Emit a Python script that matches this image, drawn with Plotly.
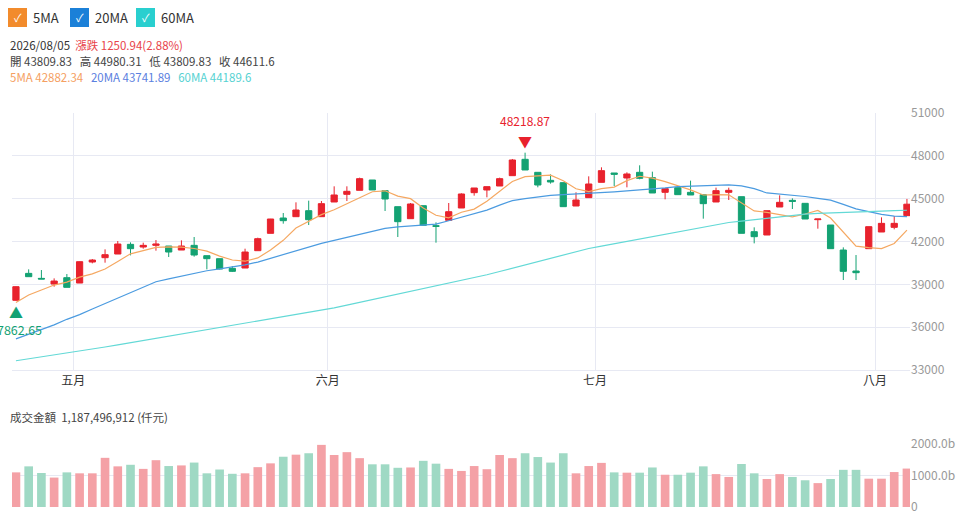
import plotly.graph_objects as go

opens = [37880,39768,39418,39021,39465,39091,40562,40866,41123,41800,41613,41730,41683,41403,41730,41006,40796,40119,40142,41356,42571,43645,43738,44158,43738,44766,45303,45583,46307,45560,44439,43598,44509,43108,43481,44345,45419,
         45606,45886,46610,47754,46844,46283,46120,44485,45069,46143,46797,46447,46844,46470,45443,45770,45443,45279,44766,45443,45139,42687,42454,44415,44882,44672,43528,43154,41403,39932,41496,42664,42991,43809.83]
closes = [38835,39535,39372,39231,38788,40586,40702,41076,41823,41496,41730,41823,41263,41683,41053,40796,40072,39909,41263,42197,43575,43458,44205,43528,44649,45256,45513,46400,45606,44975,43388,44626,43131,43061,44088,45326,45746,
          45840,46400,47708,47007,45956,46166,44439,44905,46027,46960,46704,46727,46423,45396,45700,45279,45256,44649,45560,45583,42571,42337,44158,44742,44812,43575,43575,41496,39909,39815,43038,43271,43271,44611.6]
highs = [38850,40049,40002,39418,39722,40600,40772,41450,42033,41940,41917,42103,41683,42080,42314,41006,40796,40282,41496,42267,43580,43995,44742,44859,44835,45863,45863,46470,46307,45560,44439,44695,44509,43341,44695,45370,45746,
         45840,46470,47777,48218.87,46844,46703,46120,45443,46563,47194,46797,46844,47334,46890,45700,45770,46260,45279,45770,45770,45139,42991,44158,45232,45022,44672,43575,43154,41590,41053,43038,43691,43785,44980.31]
lows = [37862.65,39535,39372,38835,38788,39091,40469,40516,41123,41029,41496,41356,40912,41403,40936,40049,40049,39862,40142,41356,42571,43248,43738,43154,43738,44766,44835,45583,45606,44135,42314,43598,43131,41917,43481,44345,45209,
        45093,45886,46610,47007,45793,46050,44439,44485,45069,46143,45886,45793,46353,45396,44952,45279,45256,43598,44766,44905,42571,41870,42454,44415,44275,43575,42897,41496,39302,39302,41496,42664,42851,43809.83]
ma20 = [35180,35500,35830,36160,36550,36880,37270,37660,38040,38420,38800,39180,39380,39570,39760,39950,40080,40220,40360,40560,40830,41100,41370,41640,41870,42080,42300,42520,42740,42920,43030,43100,43170,43220,43450,43700,43950,
        44200,44550,44860,45000,45130,45230,45280,45320,45360,45420,45480,45540,45600,45660,45750,45840,45880,45920,45950,45960,45900,45700,45400,45320,45250,45150,45020,44900,44600,44280,44090,43900,43780,43741.89]
ma60 = [33650,33780,33910,34040,34170,34310,34460,34610,34760,34910,35060,35210,35360,35510,35660,35810,35960,36110,36260,36410,36560,36710,36860,37010,37160,37350,37540,37730,37920,38110,38300,38490,38680,38870,39060,39250,39440,
        39670,39900,40130,40360,40590,40820,41050,41280,41510,41680,41850,42010,42180,42340,42510,42670,42840,43000,43170,43330,43430,43530,43630,43730,43830,43920,43970,44010,44040,44070,44100,44130,44160,44189.6]
ma5_head = [37720,38250,38600,38950]
volume = [1100,1290,1080,935,1100,1070,1070,1560,1290,1340,1210,1485,1300,1320,1410,1070,1190,1055,1070,1265,1385,1595,1660,1705,1970,1650,1740,1550,1355,1355,1245,1255,1465,1375,1210,1145,1300,
          1200,1650,1550,1705,1585,1410,1705,1070,1300,1400,1100,1090,1090,1255,1025,1025,1090,1290,1045,955,1365,1070,890,1045,955,850,760,890,1180,1180,900,900,1110,1220]
month_pos = [4.5, 24.5, 45.5, 67.5]
month_labels = ["五月", "六月", "七月", "八月"]

n = len(closes)
xs = list(range(n))
ma5 = ma5_head + [sum(closes[i-4:i+1]) / 5 for i in range(4, n)]
hi_i = highs.index(max(highs))
lo_i = lows.index(min(lows))

RED, GREEN = "#e8222d", "#14a273"
FONT = "Noto Sans CJK TC"

fig = go.Figure()
fig.add_trace(go.Candlestick(x=xs, open=opens, high=highs, low=lows, close=closes,
    increasing=dict(line=dict(color=RED, width=1), fillcolor=RED),
    decreasing=dict(line=dict(color=GREEN, width=1), fillcolor=GREEN),
    whiskerwidth=0, xaxis="x", yaxis="y", showlegend=False, hoverinfo="skip"))
for vals, col in [(ma5, "#f5a862"), (ma20, "#4b9be0"), (ma60, "#63d9d6")]:
    fig.add_trace(go.Scatter(x=xs, y=vals, mode="lines", line=dict(color=col, width=1.2),
                             showlegend=False, hoverinfo="skip"))
vcols = ["#f4a1a6" if c >= o else "#9fd9c4" for o, c in zip(opens, closes)]
fig.add_trace(go.Bar(x=xs, y=volume, marker=dict(color=vcols, line=dict(width=0)),
                     width=0.68, xaxis="x2", yaxis="y2", showlegend=False, hoverinfo="skip"))

grid = "#e7e9f3"
xr = [-0.31, 70.24]
fig.update_layout(
    width=976, height=518, margin=dict(l=12, r=66, t=0, b=0, autoexpand=False),
    paper_bgcolor="white", plot_bgcolor="white", font=dict(family=FONT, size=12, color="#999"),
    xaxis=dict(domain=[0, 1], range=xr, rangeslider=dict(visible=False), tickvals=month_pos,
               ticktext=month_labels, showgrid=True, gridcolor=grid, ticks="", zeroline=False,
               showline=True, linecolor=grid, tickfont=dict(color="#333", size=12), anchor="y"),
    yaxis=dict(domain=[0.2857, 0.7819], range=[33000, 51000], side="right", dtick=3000,
               tickformat="d", gridcolor=grid, zeroline=False, tickfont=dict(color="#999", size=12)),
    xaxis2=dict(domain=[0, 1], range=xr, showticklabels=False, showgrid=False, zeroline=False,
                anchor="y2"),
    yaxis2=dict(domain=[0.021, 0.143], range=[0, 2000], side="right", tickvals=[0, 1000, 2000],
                ticktext=["0", "1000.0b", "2000.0b"], gridcolor=grid, zeroline=False,
                tickfont=dict(color="#999", size=12), anchor="x2"),
)

ann = [
    dict(x=hi_i, y=highs[hi_i], xref="x", yref="y", text="▼", showarrow=False, yshift=12,
         font=dict(color=RED, size=14)),
    dict(x=hi_i, y=highs[hi_i], xref="x", yref="y", text=f"{highs[hi_i]:.2f}", showarrow=False,
         yshift=32, font=dict(color=RED, size=12)),
    dict(x=lo_i, y=lows[lo_i], xref="x", yref="y", text="▲", showarrow=False, yshift=-11,
         font=dict(color=GREEN, size=14)),
    dict(x=lo_i, y=lows[lo_i], xref="x", yref="y", text=f"{lows[lo_i]:.2f}", showarrow=False,
         yshift=-29, font=dict(color=GREEN, size=12.5)),
]

def px(x): return (x - 12) / 898
def py(y): return (518 - y) / 518

shapes = []
legend = [("5MA", "#f28b2c", 8), ("20MA", "#1b80d8", 70), ("60MA", "#29cfcf", 136)]
for name, col, x0 in legend:
    shapes.append(dict(type="rect", xref="paper", yref="paper",
                       x0=px(x0), x1=px(x0 + 19), y0=py(27), y1=py(8),
                       fillcolor=col, line=dict(width=0), layer="above"))
    ann.append(dict(x=px(x0 + 9.5), y=py(17.5), xref="paper", yref="paper", text="✓",
                    showarrow=False, font=dict(color="white", size=11), xanchor="center", yanchor="middle"))
    ann.append(dict(x=px(x0 + 23), y=py(17.5), xref="paper", yref="paper", text=name,
                    showarrow=False, font=dict(color="#333", size=13), xanchor="left", yanchor="middle"))

info = [
    (45, "2026/08/05  <span style='color:#e8434a'>漲跌 1250.94(2.88%)</span>", "#333"),
    (61, "開 43809.83   高 44980.31   低 43809.83   收 44611.6", "#444"),
    (77, "<span style='color:#f5a062'>5MA 42882.34</span>   <span style='color:#5b80e0'>20MA 43741.89</span>   "
         "<span style='color:#56d2d2'>60MA 44189.6</span>", "#444"),
    (417, "成交金額  1,187,496,912 (仟元)", "#444"),
]
for y, t, c in info:
    ann.append(dict(x=px(8), y=py(y), xref="paper", yref="paper", text=t, showarrow=False,
                    xanchor="left", yanchor="middle", font=dict(color=c, size=11.5)))
fig.update_layout(shapes=shapes, annotations=ann)
fig.write_html("out.html", config={"displayModeBar": False},
               post_script="document.body.style.margin='0';document.body.style.overflow='hidden';")
